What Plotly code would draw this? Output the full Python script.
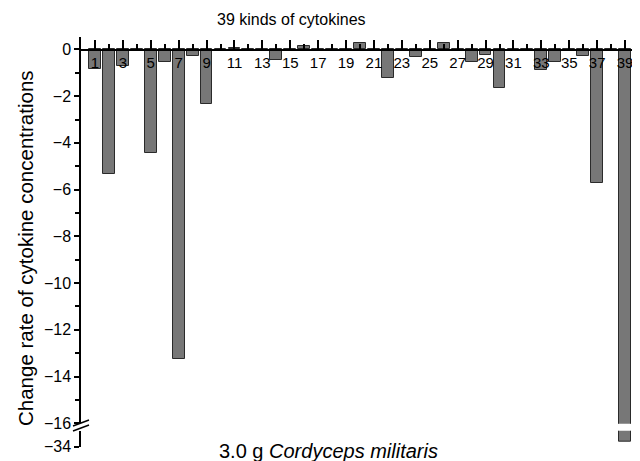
import plotly.graph_objects as go

categories = list(range(1, 40))
values = [-0.85, -5.33, -0.69, 0, -4.44, -0.54, -13.26, -0.27, -2.33, 0,
          0.05, 0, 0, -0.47, 0, 0.15, 0, 0, 0, 0.27,
          0, -1.23, 0, -0.33, 0, 0.27, 0, -0.56, -0.23, -1.65,
          0, 0, -0.9, -0.54, 0, -0.27, -5.73, 0, -33.8]
x_tick_labels = [str(v) for v in range(1, 40, 2)]
y_upper_ticks = [0, -2, -4, -6, -8, -10, -12, -14, -16]
y_lower_ticks = [-34]

# page body has an 8px margin; work in reference-pixel coordinates and shift
OFF = 8
W, H = 640 - OFF, 461 - OFF
L, R, T, B = 81 - OFF, 1, 37 - OFF, 461 - 447
PW, PH = W - L - R, H - T - B

def px(x):
    return (x - OFF - L) / PW

def py(y):
    return (H - B - (y - OFF)) / PH

FONT = "Liberation Sans, Arial, sans-serif"
fill = "#777777"
edge = "#2a2a2a"

fig = go.Figure()
fig.add_trace(go.Bar(x=categories, y=values, width=0.85, xaxis="x", yaxis="y",
                     marker=dict(color=fill, line=dict(color=edge, width=1)),
                     showlegend=False, hoverinfo="x+y"))
fig.add_trace(go.Bar(x=categories, y=values, width=0.85, xaxis="x", yaxis="y2",
                     marker=dict(color=fill, line=dict(color=edge, width=1)),
                     showlegend=False, hoverinfo="x+y"))

fig.update_layout(
    width=W, height=H,
    margin=dict(l=L, r=R, t=T, b=B, pad=0),
    paper_bgcolor="white", plot_bgcolor="white",
    font=dict(family=FONT, size=15, color="black"),
    bargap=0,
    xaxis=dict(
        range=[0, 40], domain=[0, 1], anchor="free", position=py(49.6),
        side="bottom", showline=True, linecolor="black", linewidth=1.5,
        tickmode="array", tickvals=list(range(1, 40, 2)), ticktext=x_tick_labels,
        ticks="inside", ticklen=9, tickwidth=1.5, tickcolor="black",
        minor=dict(tickmode="array", tickvals=list(range(2, 40, 2)),
                   ticks="inside", ticklen=5, tickwidth=1.5, tickcolor="black"),
        showgrid=False, zeroline=False, fixedrange=True,
        tickfont=dict(size=15),
    ),
    yaxis=dict(
        range=[-16.02, 0.53], domain=[py(423.8), 1], anchor="x",
        showline=True, linecolor="black", linewidth=1.5,
        tickmode="array", tickvals=y_upper_ticks,
        ticks="outside", ticklen=5, tickwidth=1.5, tickcolor="black",
        minor=dict(tickmode="array", tickvals=[-1, -3, -5, -7, -9, -11, -13, -15],
                   ticks="outside", ticklen=4, tickwidth=1.5, tickcolor="black"),
        showgrid=False, zeroline=False, tickfont=dict(size=16),
    ),
    yaxis2=dict(
        range=[-34.01, -33.31], domain=[0, py(430.7)], anchor="x",
        showline=True, linecolor="black", linewidth=1.5,
        tickmode="array", tickvals=y_lower_ticks,
        ticks="outside", ticklen=5, tickwidth=1.5, tickcolor="black",
        showgrid=False, zeroline=False, tickfont=dict(size=16),
    ),
)

# axis break marks
for dy in (0, 5):
    fig.add_shape(type="line", xref="paper", yref="paper",
                  x0=px(73), y0=py(426 + dy), x1=px(89), y1=py(420 + dy),
                  line=dict(color="black", width=1.5))

fig.add_annotation(text="39 kinds of cytokines", xref="paper", yref="paper",
                   x=px(291), y=py(20), showarrow=False, xanchor="center", yanchor="middle",
                   font=dict(family=FONT, size=16, color="black"))
fig.add_annotation(text="3.0 g <i>Cordyceps militaris</i>", xref="paper", yref="paper",
                   x=px(328), y=py(451), showarrow=False, xanchor="center", yanchor="middle",
                   font=dict(family=FONT, size=20, color="black"))
fig.add_annotation(text="Change rate of cytokine concentrations", xref="paper", yref="paper",
                   x=px(25), y=py(248), showarrow=False, textangle=-90,
                   xanchor="center", yanchor="middle",
                   font=dict(family=FONT, size=20.5, color="black"))

fig.write_html("out.html")
